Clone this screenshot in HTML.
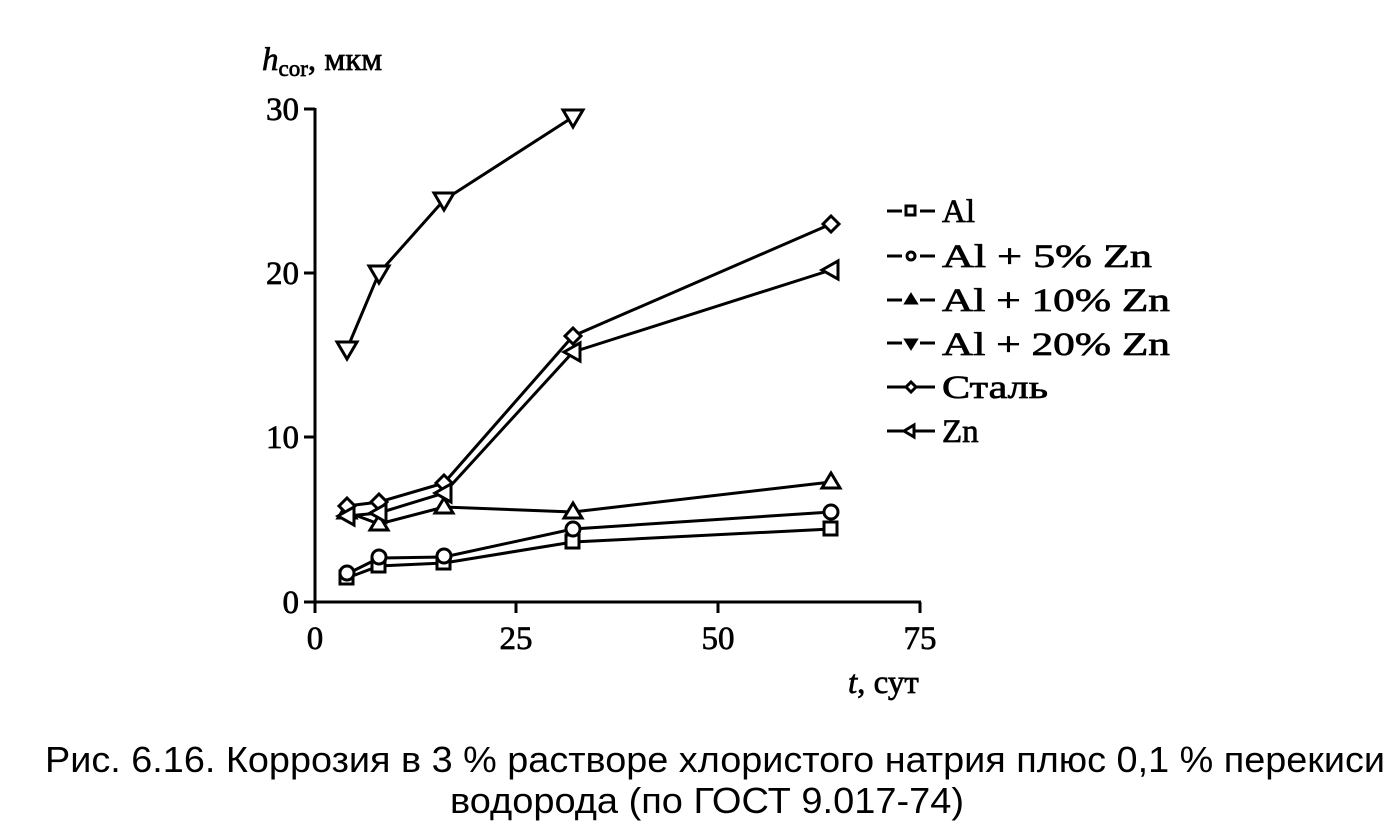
<!DOCTYPE html>
<html><head><meta charset="utf-8"><style>body{margin:0;background:#fff}svg{display:block}</style></head>
<body>
<svg width="1395" height="836" xmlns="http://www.w3.org/2000/svg">
<g stroke="#000" stroke-width="3" fill="none">
<line x1="315" y1="108" x2="315" y2="603"/>
<line x1="314" y1="602" x2="921" y2="602"/>
<line x1="304" y1="109" x2="315" y2="109"/>
<line x1="304" y1="273" x2="315" y2="273"/>
<line x1="304" y1="437" x2="315" y2="437"/>
<line x1="304" y1="602" x2="315" y2="602"/>
<line x1="315" y1="602" x2="315" y2="613"/>
<line x1="516" y1="602" x2="516" y2="613"/>
<line x1="718" y1="602" x2="718" y2="613"/>
<line x1="920" y1="602" x2="920" y2="613"/>
<polyline points="347,578 379,566 444,563 573,542 831,529"/>
<polyline points="347,574 379,558 444,557 573,529 831,512"/>
<polyline points="347,512 379,524 444,507 573,512 831,482"/>
<polyline points="347,349 379,273 444,200 573,117"/>
<polyline points="347,506 379,502 444,483 573,336 831,224"/>
<polyline points="347,516 379,513 444,493 573,352 831,270"/>
</g>
<g stroke="#000" stroke-width="3" fill="#fff">
<rect x="340" y="571" width="13" height="13"/><rect x="372" y="559" width="13" height="13"/><rect x="437" y="556" width="13" height="13"/><rect x="566" y="535" width="13" height="13"/><rect x="824" y="522" width="13" height="13"/>
<circle cx="347" cy="573" r="7"/><circle cx="379" cy="557" r="7"/><circle cx="444" cy="556" r="7"/><circle cx="573" cy="529" r="7"/><circle cx="831" cy="512" r="7"/>
<path d="M347,503 l9,15 h-18z M379,515 l9,15 h-18z M444,498 l9,15 h-18z M573,503 l9,15 h-18z M831,473 l9,15 h-18z"/>
<path d="M337,342 h20 l-10,17z M369,266 h20 l-10,17z M434,193 h20 l-10,17z M563,110 h20 l-10,17z"/>
<path d="M347,498 l8,8 l-8,8 l-8,-8z M379,494 l8,8 l-8,8 l-8,-8z M444,475 l8,8 l-8,8 l-8,-8z M573,328 l8,8 l-8,8 l-8,-8z M831,216 l8,8 l-8,8 l-8,-8z"/>
<path d="M338,516 l16,-9 v18z M370,513 l16,-9 v18z M435,493 l16,-9 v18z M564,352 l16,-9 v18z M822,270 l16,-9 v18z"/>
</g>
<g font-family="Liberation Serif, serif" font-size="33" fill="#000" stroke="#000" stroke-width="0.7">
<text x="299" y="120" text-anchor="end">30</text>
<text x="299" y="284" text-anchor="end">20</text>
<text x="299" y="448" text-anchor="end">10</text>
<text x="299" y="613" text-anchor="end">0</text>
<text x="315" y="649" text-anchor="middle">0</text>
<text x="516" y="649" text-anchor="middle">25</text>
<text x="718" y="649" text-anchor="middle">50</text>
<text x="920" y="649" text-anchor="middle">75</text>
<text x="262" y="70"><tspan font-style="italic">h</tspan><tspan font-size="23" dy="6">cor</tspan><tspan dy="-6">, мкм</tspan></text>
<text x="848" y="693"><tspan font-style="italic">t</tspan>, сут</text>
<text x="942" y="222">Al</text>
<text x="942" y="267" textLength="210" lengthAdjust="spacingAndGlyphs">Al + 5% Zn</text>
<text x="942" y="311" textLength="228" lengthAdjust="spacingAndGlyphs">Al + 10% Zn</text>
<text x="942" y="355" textLength="228" lengthAdjust="spacingAndGlyphs">Al + 20% Zn</text>
<text x="942" y="398" textLength="106" lengthAdjust="spacingAndGlyphs">Сталь</text>
<text x="942" y="442">Zn</text>
</g>
<g stroke="#000" stroke-width="3" fill="#fff">
<line x1="887" y1="211" x2="902" y2="211"/><line x1="920" y1="211" x2="935" y2="211"/><rect x="906" y="206" width="9" height="9"/>
<line x1="887" y1="256" x2="902" y2="256"/><line x1="920" y1="256" x2="935" y2="256"/><circle cx="911" cy="256" r="4"/>
<line x1="887" y1="300" x2="902" y2="300"/><line x1="920" y1="300" x2="935" y2="300"/><path d="M911,295 l5,8 h-10z" fill="#000"/>
<line x1="887" y1="343" x2="902" y2="343"/><line x1="920" y1="343" x2="935" y2="343"/><path d="M906,340 h10 l-5,8z" fill="#000"/>
<line x1="887" y1="387" x2="935" y2="387"/><path d="M911,382 l5,5 l-5,5 l-5,-5z"/>
<line x1="887" y1="431" x2="935" y2="431"/><path d="M904,431 l10,-6 v12z"/>
</g>
<g font-family="Liberation Sans, sans-serif" font-size="36" fill="#000">
<text x="45" y="772" textLength="1340" lengthAdjust="spacingAndGlyphs">Рис. 6.16. Коррозия в 3 % растворе хлористого натрия плюс 0,1 % перекиси</text>
<text x="450" y="813" textLength="514" lengthAdjust="spacingAndGlyphs">водорода (по ГОСТ 9.017-74)</text>
</g>
</svg>
</body></html>
